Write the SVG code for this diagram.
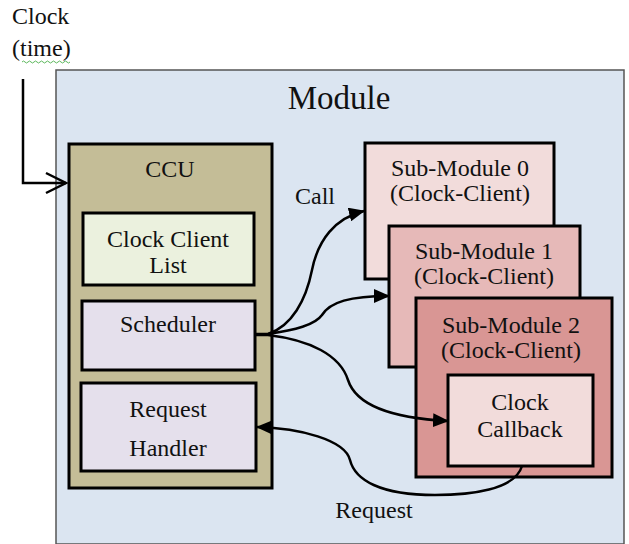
<svg xmlns="http://www.w3.org/2000/svg" width="629" height="544" viewBox="0 0 629 544">
  <defs>
    <style>
      text { font-family: "Liberation Serif", "Times New Roman", serif; fill: #111; text-anchor: middle; }
      .box { stroke: #000; stroke-width: 3; }
      .wire { fill: none; stroke: #000; stroke-width: 2.5; }
      .t20 { font-size: 24px; }
    </style>
    <marker id="tri" markerUnits="userSpaceOnUse" markerWidth="16" markerHeight="14" refX="15" refY="7" orient="auto">
      <path d="M0,0 L16,7 L0,14 z" fill="#000"/>
    </marker>
  </defs>

  <rect width="629" height="544" fill="#fff"/>

  <!-- outer clock input label -->
  <g id="clock-input">
    <text x="12" y="24" class="t20" style="text-anchor:start">Clock</text>
    <text x="12" y="56" class="t20" style="text-anchor:start">(time)</text>
    <path d="M22,62 q1.5,-2 3,0 t3,0 t3,0 t3,0 t3,0 t3,0 t3,0 t3,0 t3,0 t3,0 t3,0 t3,0 t3,0 t3,0 t3,0 t3,0" fill="none" stroke="#5cb85c" stroke-width="1"/>
  </g>

  <!-- Module container -->
  <g id="module">
    <rect x="56" y="70" width="568" height="474" fill="#dbe5f1" stroke="#555" stroke-width="1.5"/>
    <text x="339" y="109" style="font-size:33px">Module</text>
  </g>

  <!-- CCU and its parts -->
  <g id="ccu">
    <rect class="box" x="69" y="144" width="203" height="344" fill="#c4bd97"/>
    <text x="170" y="177" class="t20">CCU</text>
  </g>
  <g id="clock-client-list">
    <rect class="box" x="83" y="213" width="171" height="72" fill="#ebf1de"/>
    <text x="168" y="247" class="t20">Clock Client</text>
    <text x="168" y="273" class="t20">List</text>
  </g>
  <g id="scheduler">
    <rect class="box" x="82" y="301" width="173" height="69" fill="#e5e0ec"/>
    <text x="168" y="332" class="t20">Scheduler</text>
  </g>
  <g id="request-handler">
    <rect class="box" x="81" y="383" width="175" height="88" fill="#e5e0ec"/>
    <text x="168" y="417" class="t20">Request</text>
    <text x="168" y="456" class="t20">Handler</text>
  </g>

  <!-- Sub-modules (clock clients) -->
  <g id="sub-module-0">
    <rect class="box" x="365" y="143" width="189" height="136" fill="#f2dcdb"/>
    <text x="460" y="176" class="t20">Sub-Module 0</text>
    <text x="460" y="201" class="t20">(Clock-Client)</text>
  </g>
  <g id="sub-module-1">
    <rect class="box" x="389" y="226" width="191" height="141" fill="#e6b9b8"/>
    <text x="484" y="259" class="t20">Sub-Module 1</text>
    <text x="484" y="284" class="t20">(Clock-Client)</text>
  </g>
  <g id="sub-module-2">
    <rect class="box" x="416" y="298" width="196" height="179" fill="#d99694"/>
    <text x="511" y="333" class="t20">Sub-Module 2</text>
    <text x="511" y="358" class="t20">(Clock-Client)</text>
  </g>
  <g id="clock-callback">
    <rect class="box" x="448" y="375" width="145" height="91" fill="#f2dcdb"/>
    <text x="520" y="410" class="t20">Clock</text>
    <text x="520" y="437" class="t20">Callback</text>
  </g>

  <!-- connectors -->
  <g id="connectors">
    <path class="wire" d="M23,79 V183 H66"/>
    <path class="wire" d="M46,173 L66,183 L46,193"/>
    <path class="wire" d="M255,334 L268,334 C292,326 306,300 312,270 C318,240 335,218 364,211" marker-end="url(#tri)"/>
    <path class="wire" d="M268,334 C295,330 315,325 322,315 C330,302 350,296 389,296" marker-end="url(#tri)"/>
    <path class="wire" d="M255,335 L268,335 C310,340 340,355 348,380 C356,405 390,418 448,421" marker-end="url(#tri)"/>
    <path class="wire" d="M522,466 C515,490 470,495 435,495 C380,495 355,480 350,460 C345,440 300,428 257,427" marker-end="url(#tri)"/>
    <text x="315" y="204" class="t20">Call</text>
    <text x="374" y="518" class="t20">Request</text>
  </g>
</svg>
